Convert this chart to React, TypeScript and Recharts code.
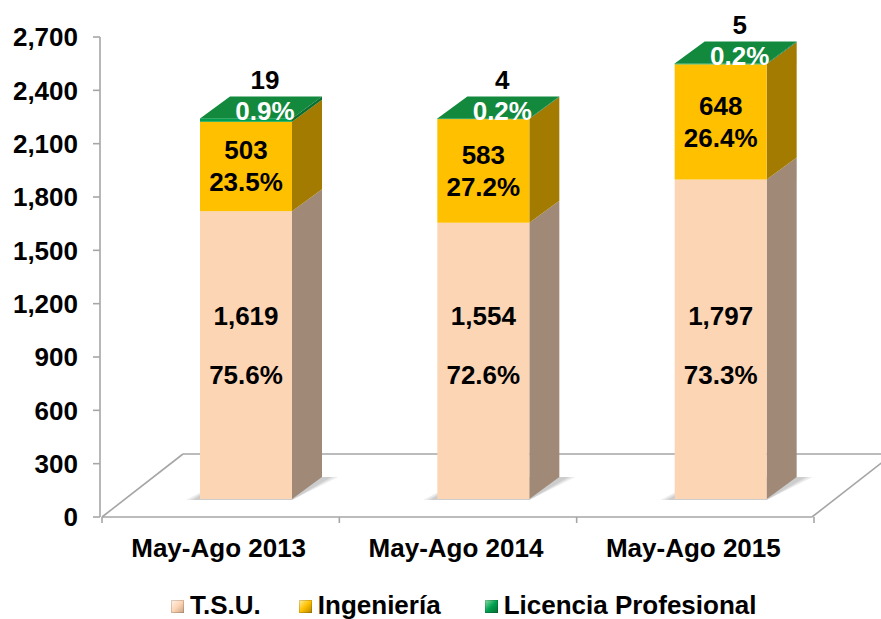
import React from "react";
import { BarChart, Bar, XAxis, YAxis, LabelList } from "recharts";

const categories = ["May-Ago 2013", "May-Ago 2014", "May-Ago 2015"];
const tsu = [1619, 1554, 1797];
const ingenieria = [503, 583, 648];
const licencia = [19, 4, 5];
const tsuPct = [75.6, 72.6, 73.3];
const ingPct = [23.5, 27.2, 26.4];
const licPct = [0.9, 0.2, 0.2];
const yTicks = [0, 300, 600, 900, 1200, 1500, 1800, 2100, 2400, 2700];

const data = categories.map((name, i) => ({
  name,
  tsu: tsu[i],
  ing: ingenieria[i],
  lic: licencia[i],
}));

const FONT = '"Liberation Sans", Arial, sans-serif';
const W = 881;
const H = 619;
const PLOT_LEFT = 100;
const PLOT_RIGHT = 812;
const PLOT_TOP = 37;
const PLOT_BOTTOM = 517;

// 3d look: bars sit a bit inside the floor, with some depth
const SHIFT_X = 27;
const SHIFT_Y = -18;
const DEPTH_X = 30;
const DEPTH_Y = -22;

const fmt = (v: number) => v.toLocaleString("en-US");

const makeShape = (front: string, side: string, top: string | null, shadow: boolean) => (props: any) => {
  const { x, y, width, height } = props;
  if (width == null || height == null) return null;
  const fx = x + SHIFT_X;
  const fy = y + SHIFT_Y;
  const bottom = fy + height;
  // soft floor shadow faked with a few translucent layers
  const shadowLayers = shadow ? [10, 6, 3] : [];
  return (
    <g>
      {shadowLayers.map((s) => (
        <polygon
          key={s}
          points={`${fx - 4 - s},${bottom + 1} ${fx + width},${bottom + 1} ${fx + width + DEPTH_X + 6 + s},${bottom + DEPTH_Y} ${fx + DEPTH_X},${bottom + DEPTH_Y}`}
          fill="#7a7a7a"
          opacity={0.14}
        />
      ))}
      <polygon
        points={`${fx + width},${fy} ${fx + width + DEPTH_X},${fy + DEPTH_Y} ${fx + width + DEPTH_X},${bottom + DEPTH_Y} ${fx + width},${bottom}`}
        fill={side}
      />
      <rect x={fx} y={fy} width={width} height={Math.max(height, 0.5)} fill={front} />
      {top && (
        <polygon
          points={`${fx},${fy} ${fx + DEPTH_X},${fy + DEPTH_Y} ${fx + width + DEPTH_X},${fy + DEPTH_Y} ${fx + width},${fy}`}
          fill={top}
        />
      )}
    </g>
  );
};

const labelStyle = { fontSize: 26, fontWeight: "bold" as const, fontFamily: FONT };

const TsuLabel = (props: any) => {
  const { x, y, width, height, index } = props;
  const cx = x + SHIFT_X + width / 2;
  const bottom = y + height + SHIFT_Y;
  return (
    <g>
      <text x={cx} y={bottom - 183} textAnchor="middle" dominantBaseline="central" fill="#000" style={labelStyle}>
        {fmt(tsu[index])}
      </text>
      <text x={cx} y={bottom - 124} textAnchor="middle" dominantBaseline="central" fill="#000" style={labelStyle}>
        {tsuPct[index].toFixed(1)}%
      </text>
    </g>
  );
};

const IngLabel = (props: any) => {
  const { x, y, width, height, index } = props;
  const cx = x + SHIFT_X + width / 2;
  const mid = y + SHIFT_Y + height / 2;
  return (
    <g>
      <text x={cx} y={mid - 16} textAnchor="middle" dominantBaseline="central" fill="#000" style={labelStyle}>
        {fmt(ingenieria[index])}
      </text>
      <text x={cx} y={mid + 16} textAnchor="middle" dominantBaseline="central" fill="#000" style={labelStyle}>
        {ingPct[index].toFixed(1)}%
      </text>
    </g>
  );
};

const LicLabel = (props: any) => {
  const { x, y, width, index } = props;
  const cx = x + SHIFT_X + width / 2 + 19;
  const top = y + SHIFT_Y;
  return (
    <g>
      <text x={cx} y={top - 38} textAnchor="middle" dominantBaseline="central" fill="#000" style={labelStyle}>
        {fmt(licencia[index])}
      </text>
      <text x={cx} y={top - 7} textAnchor="middle" dominantBaseline="central" fill="#fff" style={labelStyle}>
        {licPct[index].toFixed(1)}%
      </text>
    </g>
  );
};

const XTick = (props: any) => {
  const { x, y, payload } = props;
  return (
    <text x={x} y={y} dy={40} textAnchor="middle" fill="#000" style={labelStyle}>
      {payload.value}
    </text>
  );
};

const legendItems = [
  { name: "T.S.U.", grad: "linear-gradient(135deg, #fff4ea 0%, #fcd5b5 50%, #c9a283 100%)", gap: 38 },
  { name: "Ingeniería", grad: "linear-gradient(135deg, #fff0a0 0%, #ffc000 50%, #b08200 100%)", gap: 44 },
  { name: "Licencia Profesional", grad: "linear-gradient(135deg, #8fe0a8 0%, #00a050 50%, #0a6a30 100%)", gap: 0 },
];

export default function App() {
  const band = (PLOT_RIGHT - PLOT_LEFT) / categories.length;
  const floorDX = 81;
  const floorDY = -63;
  return (
    <div style={{ position: "relative", width: W, height: H, fontFamily: FONT, background: "#fff" }}>
      <style>{"body{margin:0}"}</style>
      {/* floor */}
      <svg width={W} height={H} style={{ position: "absolute", left: 0, top: 0 }}>
        <g stroke="#a6a6a6" strokeWidth={1.6} fill="none">
          <line x1={PLOT_LEFT + 2} y1={PLOT_BOTTOM} x2={PLOT_RIGHT} y2={PLOT_BOTTOM} />
          <line x1={PLOT_LEFT + 2} y1={PLOT_BOTTOM} x2={PLOT_LEFT + 2 + floorDX} y2={PLOT_BOTTOM + floorDY} />
          <line x1={PLOT_LEFT + 2 + floorDX} y1={PLOT_BOTTOM + floorDY} x2={W} y2={PLOT_BOTTOM + floorDY} />
          <line x1={PLOT_RIGHT} y1={PLOT_BOTTOM} x2={PLOT_RIGHT + floorDX} y2={PLOT_BOTTOM + floorDY} />
          {[0, 1, 2, 3].map((k) => (
            <line key={k} x1={PLOT_LEFT + 2 + band * k} y1={PLOT_BOTTOM} x2={PLOT_LEFT + 2 + band * k} y2={PLOT_BOTTOM + 6} />
          ))}
        </g>
      </svg>
      <div style={{ position: "absolute", left: 0, top: 0 }}>
        <BarChart
          width={W}
          height={H}
          data={data}
          margin={{ top: PLOT_TOP, right: W - PLOT_RIGHT, left: 0, bottom: 0 }}
          barSize={92}
        >
          <XAxis dataKey="name" height={H - PLOT_BOTTOM} axisLine={false} tickLine={false} tickSize={0} tickMargin={0} interval={0} tick={XTick} />
          <YAxis
            width={PLOT_LEFT}
            domain={[0, 2700]}
            ticks={yTicks}
            interval={0}
            tickFormatter={fmt}
            axisLine={{ stroke: "#a6a6a6", strokeWidth: 1.6 }}
            tickLine={{ stroke: "#a6a6a6", strokeWidth: 1.6 }}
            tickSize={7}
            tickMargin={15}
            tick={{ fontSize: 26, fontWeight: "bold", fill: "#000", fontFamily: FONT }}
          />
          <Bar dataKey="tsu" stackId="a" isAnimationActive={false} shape={makeShape("#fcd5b5", "#a08977", null, true)}>
            <LabelList dataKey="tsu" content={TsuLabel} />
          </Bar>
          <Bar dataKey="ing" stackId="a" isAnimationActive={false} shape={makeShape("#ffc000", "#a37b00", null, false)}>
            <LabelList dataKey="ing" content={IngLabel} />
          </Bar>
          <Bar dataKey="lic" stackId="a" isAnimationActive={false} shape={makeShape("#00a050", "#0b6e30", "#12893c", false)}>
            <LabelList dataKey="lic" content={LicLabel} />
          </Bar>
        </BarChart>
      </div>
      {/* legend */}
      <div style={{ position: "absolute", left: 171, top: 592, display: "flex", alignItems: "flex-start" }}>
        {legendItems.map((it) => (
          <div key={it.name} style={{ display: "flex", alignItems: "flex-start", marginRight: it.gap }}>
            <div style={{ width: 13, height: 13, marginTop: 8, marginRight: 6, background: it.grad, boxShadow: "inset 0 0 0 1px rgba(0,0,0,0.15)" }} />
            <span style={{ fontSize: 26, fontWeight: "bold", lineHeight: "26px", color: "#000" }}>{it.name}</span>
          </div>
        ))}
      </div>
    </div>
  );
}
